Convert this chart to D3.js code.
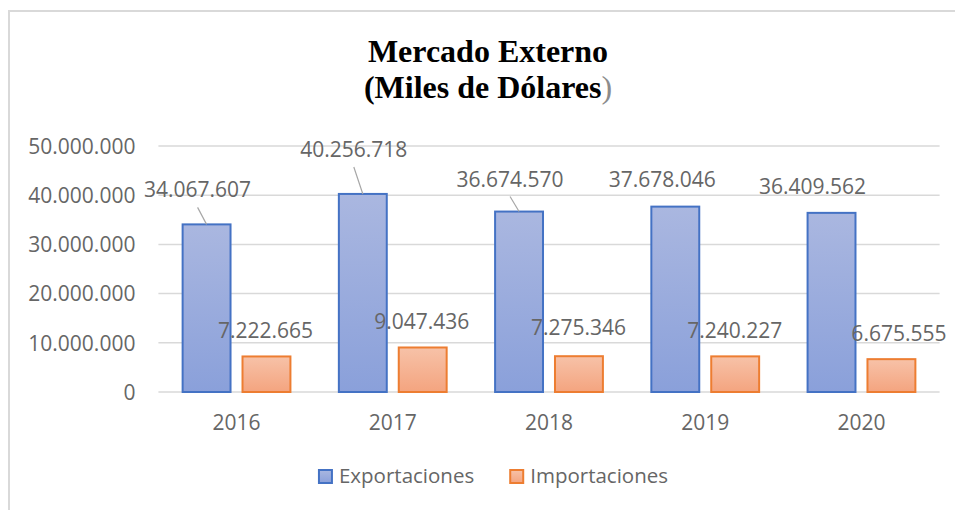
<!DOCTYPE html>
<html>
<head>
<meta charset="utf-8">
<script src="https://cdn.jsdelivr.net/npm/d3@7"></script>
<style>
  body { margin: 0; background: #fff; }
  svg { display: block; }
  .tick text { font-family: "Open Sans", sans-serif; fill: #666; }
</style>
</head>
<body>
<div id="chart"></div>
<script>
// data
var years = ["2016", "2017", "2018", "2019", "2020"];
var exportaciones = [34067607, 40256718, 36674570, 37678046, 36409562];
var importaciones = [7222665, 9047436, 7275346, 7240227, 6675555];
var seriesNames = ["Exportaciones", "Importaciones"];
var yTicks = [0, 10000000, 20000000, 30000000, 40000000, 50000000];

// label nudges (px) from the default spot above each bar, and which ones got a leader line
var expLabelDx = [-9, -9, -9, -13, -19];
var expLabelDy = [-27, -37, -25, -20, -19];
var expLeader = [true, true, true, false, false];
var impLabelDx = [-1, -1, -0.5, -0.5, 7.5];
var impLabelDy = [-18.5, -18.5, -21, -18.5, -18];

var width = 955, height = 510;
var plot = {left: 158.4, right: 939.6, top: 146, bottom: 392};

var svg = d3.select("#chart").append("svg")
    .attr("width", width)
    .attr("height", height);

// gradients like the excel fill
var defs = svg.append("defs");
function grad(id, top, bottom) {
    var g = defs.append("linearGradient").attr("id", id)
        .attr("x1", 0).attr("y1", 0).attr("x2", 0).attr("y2", 1);
    g.append("stop").attr("offset", "0%").attr("stop-color", top);
    g.append("stop").attr("offset", "100%").attr("stop-color", bottom);
}
grad("gExp", "#aab7e0", "#8aa0da");
grad("gImp", "#f7c2a8", "#f4a47f");

var fills = {Exportaciones: "url(#gExp)", Importaciones: "url(#gImp)"};
var strokes = {Exportaciones: "#4472c4", Importaciones: "#ed7d31"};

// chart frame
svg.append("rect")
    .attr("x", 9).attr("y", 11)
    .attr("width", 980).attr("height", 540)
    .attr("fill", "none")
    .attr("stroke", "#d9d9d9")
    .attr("stroke-width", 2);

// title
var title = svg.append("text")
    .attr("text-anchor", "middle")
    .style("font-family", "'Liberation Serif', 'Times New Roman', serif")
    .style("font-weight", "bold")
    .style("font-size", "32px")
    .attr("fill", "#000");
title.append("tspan").attr("x", 488).attr("y", 62).text("Mercado Externo");
var t2 = title.append("tspan").attr("x", 488).attr("y", 98);
t2.append("tspan").text("(Miles de Dólares");
t2.append("tspan").attr("fill", "#8c8c8c").style("font-weight", "normal").text(")");

// scales
var x0 = d3.scaleBand()
    .domain(years)
    .range([plot.left, plot.right])
    .paddingInner(0.31)
    .paddingOuter(0.155);

var x1 = d3.scaleBand()
    .domain(seriesNames)
    .range([0, x0.bandwidth()])
    .paddingInner(0.2);

var y = d3.scaleLinear()
    .domain([0, 50000000])
    .range([plot.bottom, plot.top]);

var es = d3.formatLocale({decimal: ",", thousands: ".", grouping: [3], currency: ["$", ""]});
var fmt = es.format(",d");

// gridlines
svg.append("g").selectAll("line")
    .data(yTicks)
    .enter().append("line")
    .attr("x1", plot.left).attr("x2", plot.right)
    .attr("y1", function(d){ return y(d); })
    .attr("y2", function(d){ return y(d); })
    .attr("stroke", "#d9d9d9")
    .attr("stroke-width", 1.5);

// y axis
var yAxis = svg.append("g")
    .attr("transform", "translate(" + plot.left + ",0)")
    .call(d3.axisLeft(y).tickValues(yTicks).tickSize(0).tickPadding(23).tickFormat(fmt));
yAxis.select(".domain").remove();
yAxis.selectAll("text").style("font-size", "21px").attr("dy", "0.35em");

// x axis
var xAxis = svg.append("g")
    .attr("transform", "translate(0," + plot.bottom + ")")
    .call(d3.axisBottom(x0).tickSize(0).tickPadding(23));
xAxis.select(".domain").remove();
xAxis.selectAll("text").style("font-size", "21px").attr("dy", "0.71em");

// rows for the bars
var rows = years.map(function(yr, i){
    return {year: yr, values: [
        {name: "Exportaciones", value: exportaciones[i], dx: expLabelDx[i], dy: expLabelDy[i], leader: expLeader[i]},
        {name: "Importaciones", value: importaciones[i], dx: impLabelDx[i], dy: impLabelDy[i], leader: false}
    ]};
});

var groups = svg.append("g").selectAll("g")
    .data(rows)
    .enter().append("g")
    .attr("transform", function(d){ return "translate(" + x0(d.year) + ",0)"; });

groups.selectAll("rect")
    .data(function(d){ return d.values; })
    .enter().append("rect")
    .attr("x", function(d){ return x1(d.name); })
    .attr("y", function(d){ return y(d.value); })
    .attr("width", x1.bandwidth())
    .attr("height", function(d){ return y(0) - y(d.value); })
    .attr("fill", function(d){ return fills[d.name]; })
    .attr("stroke", function(d){ return strokes[d.name]; })
    .attr("stroke-width", 2);

// leader lines
groups.selectAll("line.leader")
    .data(function(d){ return d.values.filter(function(v){ return v.leader; }); })
    .enter().append("line")
    .attr("class", "leader")
    .attr("x1", function(d){ return x1(d.name) + x1.bandwidth() / 2 + d.dx; })
    .attr("y1", function(d){ return y(d.value) + d.dy + 10; })
    .attr("x2", function(d){ return x1(d.name) + x1.bandwidth() / 2; })
    .attr("y2", function(d){ return y(d.value); })
    .attr("stroke", "#a6a6a6")
    .attr("stroke-width", 1.2);

// data labels
groups.selectAll("text.lbl")
    .data(function(d){ return d.values; })
    .enter().append("text")
    .attr("class", "lbl")
    .attr("x", function(d){ return x1(d.name) + x1.bandwidth() / 2 + d.dx; })
    .attr("y", function(d){ return y(d.value) + d.dy; })
    .attr("text-anchor", "middle")
    .style("font-family", "'Open Sans', sans-serif")
    .style("font-size", "21px")
    .attr("fill", "#666")
    .text(function(d){ return fmt(d.value); });

// legend, centred under the plot
var legend = svg.append("g");
var items = legend.selectAll("g")
    .data(seriesNames)
    .enter().append("g");
items.append("rect")
    .attr("x", 1).attr("y", -13)
    .attr("width", 13).attr("height", 13)
    .attr("fill", function(d){ return fills[d]; })
    .attr("stroke", function(d){ return strokes[d]; })
    .attr("stroke-width", 2);
items.append("text")
    .attr("x", 21).attr("y", 0)
    .style("font-family", "'Open Sans', sans-serif")
    .style("font-size", "20.5px")
    .attr("fill", "#666")
    .text(function(d){ return d; });

var xpos = 0;
items.each(function(){
    var w = this.getBBox().width;
    d3.select(this).attr("transform", "translate(" + xpos + ",0)");
    xpos += w + 36;
});
var total = xpos - 36;
legend.attr("transform", "translate(" + (492.5 - total / 2) + ",483)");
</script>
</body>
</html>
